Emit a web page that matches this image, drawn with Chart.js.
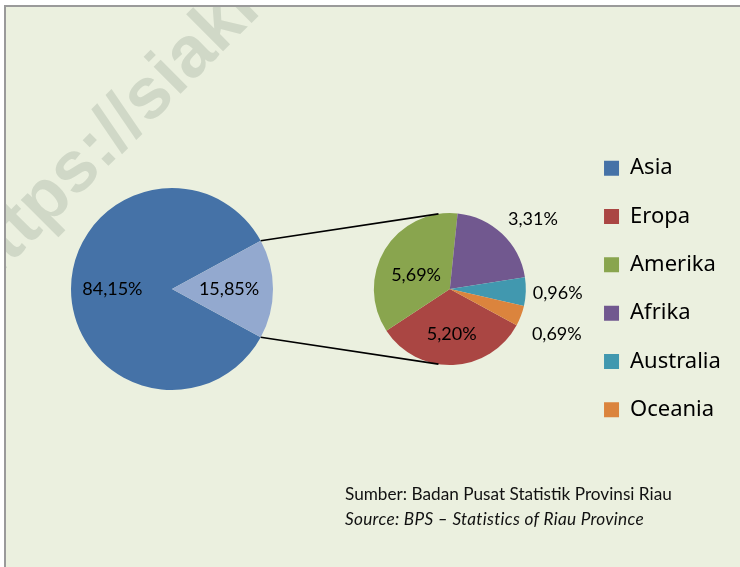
<!DOCTYPE html>
<html>
<head>
<meta charset="utf-8">
<script src="https://cdn.jsdelivr.net/npm/chart.js@4/dist/chart.umd.min.js"></script>
<style>
  html, body { margin: 0; padding: 0; width: 740px; height: 567px; overflow: hidden; background: #ffffff; }
  #frame { position: absolute; left: 4px; top: 5px; width: 760px; height: 600px; background: #EBF0DF;
           border-left: 2px solid #9a9a9a; border-top: 2px solid #9a9a9a; overflow: hidden; }
  #wm { position: absolute; left: -70px; top: 245px; font-family: "Liberation Sans", Arial, sans-serif;
        font-weight: bold; font-size: 72px; line-height: 72px; color: #D0D8C7; white-space: nowrap;
        transform-origin: 0 0; transform: rotate(-45deg); }
  canvas { position: absolute; left: 0; top: 0; }
  #src { position: absolute; left: 345px; top: 481px; font-family: Lato, sans-serif; font-size: 17.2px;
         line-height: 25px; color: #111; white-space: nowrap; }
  #src i { letter-spacing: 0.3px; }
</style>
</head>
<body>
<div id="frame"><div id="wm">https://siakkab.bps.go.id</div></div>
<canvas id="big" width="740" height="567"></canvas>
<canvas id="small" width="740" height="567"></canvas>
<div id="src">Sumber: Badan Pusat Statistik Provinsi Riau<br><i>Source: BPS – Statistics of Riau Province</i></div>
<script>
// ---- data ----
const bigLabels = ['Asia', 'Lainnya'];
const bigValues = [84.15, 15.85];
const smallLabels = ['Eropa', 'Amerika', 'Afrika', 'Australia', 'Oceania'];
const smallValues = [5.20, 5.69, 3.31, 0.96, 0.69];
const legendLabels = ['Asia', 'Eropa', 'Amerika', 'Afrika', 'Australia', 'Oceania'];

// ---- styles ----
const bigColors = ['#4572A7', '#93A9CF'];
const smallColors = ['#AA4643', '#89A54E', '#71588F', '#4198AF', '#DB843D'];
const legendColors = ['#4572A7', '#AA4643', '#89A54E', '#71588F', '#4198AF', '#DB843D'];

const fmt = v => v.toFixed(2).replace('.', ',') + '%';
const sum = a => a.reduce((s, v) => s + v, 0);
// "others" slice centred at 3 o'clock
const rot = 90 + 180 * bigValues[1] / sum(bigValues);

const pctLabels = {
  id: 'pctLabels',
  afterDatasetsDraw(chart, args, opts) {
    const ctx = chart.ctx;
    const meta = chart.getDatasetMeta(0);
    const vals = chart.data.datasets[0].data;
    ctx.save();
    ctx.font = opts.font;
    ctx.fillStyle = opts.color;
    ctx.textAlign = 'center';
    ctx.textBaseline = 'middle';
    meta.data.forEach((arc, i) => {
      const p = arc.getProps(['x', 'y', 'startAngle', 'endAngle', 'outerRadius'], true);
      const a = (p.startAngle + p.endAngle) / 2 + (opts.shift[i] || 0) * Math.PI / 180;
      const r = p.outerRadius * opts.dist[i];
      ctx.fillText(fmt(vals[i]), p.x + Math.cos(a) * r, p.y + Math.sin(a) * r);
    });
    ctx.restore();
  }
};

let bigChart = null;

const connector = {
  id: 'connector',
  afterDatasetsDraw(chart) {
    if (!bigChart) return;
    const B = bigChart.getDatasetMeta(0).data[1].getProps(['x', 'y', 'startAngle', 'endAngle', 'outerRadius'], true);
    const S = chart.getDatasetMeta(0).data[0].getProps(['x', 'y', 'outerRadius'], true);
    const ctx = chart.ctx;
    ctx.save();
    ctx.strokeStyle = '#000';
    ctx.lineWidth = 1.6;
    [B.startAngle, B.endAngle].forEach(a => {
      const p = { x: B.x + Math.cos(a) * B.outerRadius, y: B.y + Math.sin(a) * B.outerRadius };
      const dx = p.x - S.x, dy = p.y - S.y;
      const d = Math.hypot(dx, dy), th = Math.atan2(dy, dx), al = Math.acos(S.outerRadius / d);
      const c1 = { x: S.x + Math.cos(th + al) * S.outerRadius, y: S.y + Math.sin(th + al) * S.outerRadius };
      const c2 = { x: S.x + Math.cos(th - al) * S.outerRadius, y: S.y + Math.sin(th - al) * S.outerRadius };
      const t = p.y < S.y ? (c1.y < c2.y ? c1 : c2) : (c1.y > c2.y ? c1 : c2);
      ctx.beginPath();
      ctx.moveTo(p.x, p.y);
      ctx.lineTo(t.x, t.y);
      ctx.stroke();
    });
    ctx.restore();
  }
};

const legendWidth = {
  id: 'legendWidth',
  beforeLayout(chart, args, opts) {
    const lg = chart.legend;
    if (lg && !lg._wrapped) {
      const orig = lg.fit;
      lg.fit = function () { orig.call(this); this.width = opts.width; };
      lg._wrapped = true;
    }
  }
};

function draw() {
  bigChart = new Chart(document.getElementById('big'), {
    type: 'pie',
    data: {
      labels: bigLabels,
      datasets: [{ data: bigValues, backgroundColor: bigColors, borderWidth: 0 }]
    },
    options: {
      responsive: false, animation: false, events: [],
      rotation: rot, radius: 101,
      layout: { padding: { left: 0, right: 396, top: 11, bottom: 0 } },
      plugins: {
        legend: { display: false }, tooltip: { enabled: false },
        pctLabels: { font: '18px Lato', color: '#000', dist: [0.59, 0.565], shift: [0, 0] }
      }
    },
    plugins: [pctLabels]
  });

  new Chart(document.getElementById('small'), {
    type: 'pie',
    data: {
      labels: smallLabels,
      datasets: [{ data: smallValues, backgroundColor: smallColors, borderWidth: 0 }]
    },
    options: {
      responsive: false, animation: false, events: [],
      rotation: rot, radius: 76,
      layout: { padding: { left: 322, right: 0, top: 11, bottom: 0 } },
      plugins: {
        tooltip: { enabled: false },
        legendWidth: { width: 162.3 },
        legend: {
          display: true, position: 'right', align: 'center',
          labels: {
            boxWidth: 15, boxHeight: 15, padding: 26.33, color: '#000',
            font: { family: '"Noto Sans"', size: 22 },
            generateLabels: () => legendLabels.map((t, i) => ({
              text: t, fillStyle: legendColors[i], strokeStyle: legendColors[i],
              lineWidth: 0, hidden: false, index: i, fontColor: '#000'
            }))
          }
        },
        pctLabels: { font: '18px Lato', color: '#000',
                     dist: [0.59, 0.48, 1.425, 1.42, 1.53], shift: [0, -9, 6.7, 0.5, 2.4] }
      }
    },
    plugins: [pctLabels, connector, legendWidth]
  });
}

if (document.fonts && document.fonts.load) {
  Promise.all([document.fonts.load('21px Lato'), document.fonts.load('22px "Noto Sans"'),
               document.fonts.load('bold 72px "Liberation Sans"')])
    .then(draw, draw);
} else {
  draw();
}
</script>
</body>
</html>
